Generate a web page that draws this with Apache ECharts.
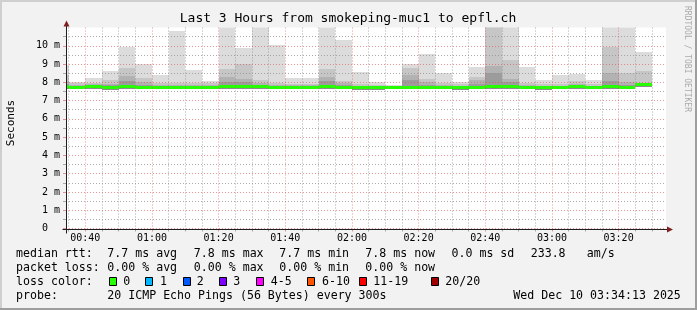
<!DOCTYPE html>
<html><head><meta charset="utf-8">
<script src="https://cdn.jsdelivr.net/npm/echarts@6/dist/echarts.min.js"></script>
<style>html,body{margin:0;padding:0;background:#f2f2f2}#c{width:697px;height:310px}</style>
</head><body><div id="c"></div>
<script>
// ---------------- data ----------------
const titleText = 'Last 3 Hours from smokeping-muc1 to epfl.ch';
const rangeStart = '00:34:13';
const rangeMinutes = 180;
const slotStarts = ['00:30','00:35','00:40','00:45','00:50','00:55','01:00','01:05','01:10','01:15',
  '01:20','01:25','01:30','01:35','01:40','01:45','01:50','01:55','02:00','02:05','02:10','02:15',
  '02:20','02:25','02:30','02:35','02:40','02:45','02:50','02:55','03:00','03:05','03:10','03:15','03:20','03:25'];
const smokeLow = [7.63,7.63,7.64,7.60,7.63,7.63,7.63,7.62,7.61,7.63,7.64,7.64,7.64,7.62,7.63,7.63,7.64,7.62,
  7.60,7.60,7.61,7.63,7.63,7.63,7.60,7.63,7.66,7.64,7.63,7.60,7.61,7.62,7.62,7.64,7.63,7.72];
const smokeL1 = [8.95,8.04,8.25,8.62,9.93,9.00,8.40,10.80,8.67,8.07,11.5,9.89,11.5,10.04,8.25,8.25,11.5,10.33,
  8.56,8.00,7.87,8.98,9.53,8.49,8.00,8.85,11.5,11.5,8.85,8.12,8.40,8.45,8.12,11.5,11.5,9.67];
const smokeL2 = [8.40,7.96,7.98,8.10,8.80,8.25,7.96,7.96,7.96,7.96,8.73,8.98,8.10,7.98,7.90,7.90,8.73,8.05,
  7.90,7.85,7.82,8.80,8.18,7.95,7.90,8.30,11.5,9.22,7.95,7.90,7.90,8.05,7.90,9.95,8.49,8.62];
const smokeL3 = [8.05,7.88,7.90,7.92,8.36,8.00,7.88,7.88,7.88,7.88,8.31,8.18,7.95,7.88,7.84,7.84,8.30,7.95,
  7.82,7.80,7.78,8.40,8.00,7.86,7.82,8.10,8.90,8.18,7.86,7.82,7.82,7.90,7.82,8.50,8.00,7.98];
const smokeL4 = [7.90,7.82,7.84,7.84,8.07,7.88,7.82,7.82,7.82,7.82,8.00,8.00,7.85,7.82,7.80,7.80,8.07,7.85,
  7.78,7.76,7.75,8.10,7.88,7.80,7.78,7.90,8.50,8.00,7.80,7.78,7.78,7.82,7.78,8.05,7.88,7.92];
const medianRtt = [7.76,7.74,7.76,7.70,7.75,7.74,7.74,7.72,7.72,7.74,7.76,7.76,7.76,7.72,7.74,7.74,7.76,7.72,
  7.70,7.70,7.70,7.74,7.74,7.74,7.72,7.74,7.78,7.76,7.74,7.72,7.72,7.76,7.74,7.76,7.74,7.89];
const xMajorLabels = ['00:40','01:00','01:20','01:40','02:00','02:20','02:40','03:00','03:20'];
const yTickValues = [0,1,2,3,4,5,6,7,8,9,10];
const yAxisName = 'Seconds';
const rttLabel = 'median rtt:';
const rttStats = ['7.7 ms avg','7.8 ms max','7.7 ms min','7.8 ms now','0.0 ms sd','233.8','am/s'];
const lossLabel = 'packet loss:';
const lossStats = ['0.00 % avg','0.00 % max','0.00 % min','0.00 % now'];
const lossColorLabel = 'loss color:';
const lossClasses = ['0','1','2','3','4-5','6-10','11-19','20/20'];
const lossColors = ['#26ff00','#00b8ff','#0059ff','#7e00ff','#ff00ff','#ff5500','#ff0000','#a10000'];
const probeLabel = 'probe:';
const probeText = '20 ICMP Echo Pings (56 Bytes) every 300s';
const stampText = 'Wed Dec 10 03:34:13 2025';
const watermark = 'RRDTOOL / TOBI OETIKER';

// ---------------- helpers ----------------
function toMin(s){const p=s.split(':').map(Number);return p[0]*60+p[1]+(p[2]||0)/60;}
function fmt(v){const h=Math.floor(v/60), m=Math.round(v-h*60);return String(h).padStart(2,'0')+':'+String(m).padStart(2,'0');}
const T0 = toMin(rangeStart), T1 = T0 + rangeMinutes;
const STEP = 5;
const majorVals = xMajorLabels.map(toMin);
const minorVals = [];
for (let t = Math.ceil(T0/STEP)*STEP; t < T1; t += STEP) if (majorVals.indexOf(t) < 0 && t <= 210) minorVals.push(t);
const yMinor = yTickValues.map(v => v + 0.5);

const smokeData = slotStarts.map((s,i)=>{const a=toMin(s);return [a, a+STEP, smokeLow[i], smokeL1[i], smokeL2[i], smokeL3[i], smokeL4[i], medianRtt[i]];});

const FONT = 'DejaVu Sans Mono';
const GRID_C = 'rgba(143,143,143,0.75)';
const MGRID_C = 'rgba(222,79,79,0.6)';
const layerColors = ['#dcdcdc','#c6c6c6','#b2b2b2','#9c9c9c'];

function renderSmoke(params, api){
  const cs = params.coordSys;
  const s = api.value(0), e = api.value(1), lo = api.value(2), med = api.value(7);
  const children = [];
  function rect(a, b, color){
    const p1 = api.coord([s, b]), p2 = api.coord([e, a]);
    const x1 = Math.round(p1[0]), x2 = Math.round(p2[0]), y1 = Math.round(p1[1]), y2 = Math.round(p2[1]);
    const r = echarts.graphic.clipRectByRect({x:x1, y:y1, width:x2-x1, height:y2-y1}, cs);
    if (r) children.push({type:'rect', shape:r, style:{fill:color}});
  }
  for (let k=0;k<4;k++) rect(lo, api.value(3+k), layerColors[k]);
  rect(lo, med, '#8c8c8c');
  const pm = api.coord([s, med]), pe = api.coord([e, med]);
  const mr = echarts.graphic.clipRectByRect({x:Math.round(pm[0]), y:Math.round(pm[1]-1.5), width:Math.round(pe[0])-Math.round(pm[0]), height:3}, cs);
  if (mr) children.push({type:'rect', shape:mr, style:{fill:lossColors[0]}});
  return {type:'group', children};
}

const chart = echarts.init(document.getElementById('c'), null, {renderer:'canvas'});
const GL = 66, GT = 27.5, GW = 600, GH = 201;

const graphics = [];
// frame
graphics.push({type:'rect', shape:{x:0,y:0,width:697,height:2}, style:{fill:'#cfcfcf'}, z:100});
graphics.push({type:'rect', shape:{x:0,y:0,width:2,height:310}, style:{fill:'#cfcfcf'}, z:100});
graphics.push({type:'rect', shape:{x:0,y:308,width:697,height:2}, style:{fill:'#9e9e9e'}, z:100});
graphics.push({type:'rect', shape:{x:695,y:0,width:2,height:310}, style:{fill:'#9e9e9e'}, z:100});
// title
graphics.push({type:'text', x:348, y:19, style:{text:titleText, font:'13px "'+FONT+'"', fill:'#000', align:'center', verticalAlign:'middle'}, z:100});
// y name
graphics.push({type:'text', x:11, y:123, rotation:Math.PI/2, style:{text:yAxisName, font:'11px "'+FONT+'"', fill:'#000', align:'center', verticalAlign:'middle'}, z:100});
// watermark
graphics.push({type:'text', x:687.5, y:59, rotation:-Math.PI/2, style:{text:watermark, font:'8px "'+FONT+'"', fill:'#aaaaaa', align:'center', verticalAlign:'middle'}, z:100});
// legend
const LF = '11.6px "'+FONT+'"';
function txt(t,x,y){graphics.push({type:'text', x:x, y:y, style:{text:t, font:LF, fill:'#000', align:'left', verticalAlign:'middle'}, z:100});}
const colX = [107.3,193.8,279.3,365.3,451.5,530.7,586.7];
txt(rttLabel,16,254); rttStats.forEach((t,i)=>txt(t,colX[i],254));
txt(lossLabel,16,268); lossStats.forEach((t,i)=>txt(t,colX[i],268));
txt(lossColorLabel,16,282);
const boxX = [108.7,145.3,182.7,219.3,256,307.3,358.7,430.7];
const boxLabelX = [123.3,160,196.7,233.3,270.7,322,373.3,445.3];
lossClasses.forEach((t,i)=>{
  graphics.push({type:'rect', shape:{x:Math.round(boxX[i])+0.5, y:277.5, width:7, height:8}, style:{fill:lossColors[i], stroke:'#000', lineWidth:1}, z:100});
  txt(t, boxLabelX[i], 282);
});
txt(probeLabel,16,296); txt(probeText,107.3,296); txt(stampText,513.3,296);

chart.setOption({
  animation:false,
  backgroundColor:'#f2f2f2',
  grid:{left:GL, top:GT, width:GW, height:GH, show:true, backgroundColor:'#ffffff', borderWidth:0, containLabel:false, outerBoundsMode:'none'},
  xAxis:[
    {type:'value', min:T0, max:T1, position:'bottom', z:3,
     axisLine:{show:false},
     axisTick:{show:true, customValues:majorVals, length:3, lineStyle:{color:MGRID_C}},
     axisLabel:{show:true, customValues:majorVals, formatter:fmt, fontFamily:FONT, fontSize:10, color:'#000', margin:5},
     splitLine:{show:true, lineStyle:{color:MGRID_C, width:1, type:[1,2]}}},
    {type:'value', min:T0, max:T1, position:'bottom', z:3,
     axisLine:{show:false},
     axisTick:{show:true, customValues:minorVals, length:3, lineStyle:{color:GRID_C}},
     axisLabel:{show:false, customValues:minorVals},
     splitLine:{show:true, lineStyle:{color:GRID_C, width:1, type:[1,2]}}}
  ],
  yAxis:[
    {type:'value', min:0, max:11, position:'left', z:3,
     axisLine:{show:false},
     axisTick:{show:true, customValues:yTickValues, length:3, lineStyle:{color:MGRID_C}},
     axisLabel:{show:true, customValues:yTickValues, formatter:v=> v===0 ? '0  ' : v+' m', fontFamily:FONT, fontSize:10, color:'#000', margin:6},
     splitLine:{show:true, lineStyle:{color:MGRID_C, width:1, type:[1,2]}}},
    {type:'value', min:0, max:11, position:'left', z:3,
     axisLine:{show:false},
     axisTick:{show:true, customValues:yMinor, length:3, lineStyle:{color:GRID_C}},
     axisLabel:{show:false, customValues:yMinor},
     splitLine:{show:true, lineStyle:{color:GRID_C, width:1, type:[1,2]}}}
  ],
  series:[{
    type:'custom', xAxisIndex:0, yAxisIndex:0, z:2,
    renderItem:renderSmoke,
    encode:{x:[0,1], y:[2,3]},
    data:smokeData
  }],
  graphic:graphics
});

// axis lines with arrows, placed from the chart's own scales
const o = chart.convertToPixel({gridIndex:0}, [T0, 0]);
const te = chart.convertToPixel({gridIndex:0}, [T1, 11]);
const ax = Math.round(o[0]) + 0.5, ay = Math.round(o[1]) + 0.5;
const extra = [
  {type:'line', shape:{x1:ax-4, y1:ay, x2:te[0]+2, y2:ay}, style:{stroke:'#1f1f1f', lineWidth:1}, z:101},
  {type:'line', shape:{x1:ax, y1:ay+4, x2:ax, y2:te[1]-2}, style:{stroke:'#1f1f1f', lineWidth:1}, z:101},
  {type:'polygon', shape:{points:[[te[0]+1, ay-3],[te[0]+7, ay],[te[0]+1, ay+3]]}, style:{fill:'#801f1f'}, z:102},
  {type:'polygon', shape:{points:[[ax-3, te[1]-1],[ax, te[1]-7],[ax+3, te[1]-1]]}, style:{fill:'#801f1f'}, z:102}
];
chart.setOption({graphic: graphics.concat(extra)});
</script></body></html>
